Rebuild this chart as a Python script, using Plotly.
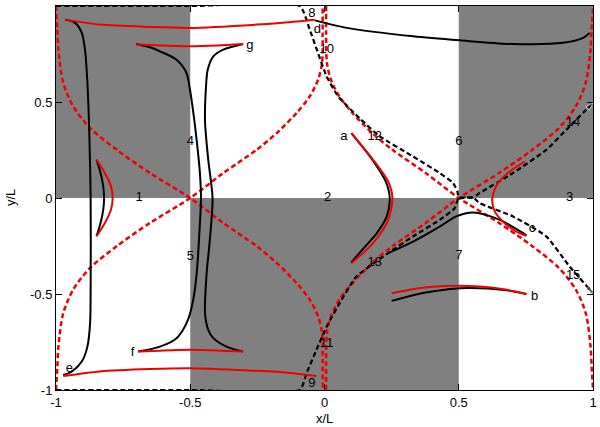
import plotly.graph_objects as go

# gray cells (x0, x1, y0, y1)
cells_x0 = [-1.0, 0.5, -0.5]
cells_x1 = [-0.5, 1.0, 0.5]
cells_y0 = [0.0, 0.0, -1.0]
cells_y1 = [1.0, 1.0, 0.0]

# red dashed separatrices
sep1_x = [-1.0, -0.995, -0.991, -0.973, -0.936, -0.873, -0.774, -0.65, -0.5,
          -0.377, -0.253, -0.178, -0.104, -0.055, -0.024, -0.009, -0.007, -0.007]
sep1_y = [1.0, 0.88, 0.773, 0.6, 0.477, 0.364, 0.251, 0.13, 0.0,
          -0.13, -0.251, -0.338, -0.443, -0.529, -0.616, -0.703, -0.86, -1.0]
sep2_x = [-1.0, -0.995, -0.991, -0.973, -0.936, -0.873, -0.774, -0.65, -0.5,
          -0.377, -0.253, -0.178, -0.104, -0.055, -0.024, -0.009, -0.007, -0.007]
sep2_y = [-1.0, -0.88, -0.773, -0.6, -0.477, -0.364, -0.251, -0.13, 0.0,
          0.13, 0.251, 0.338, 0.443, 0.529, 0.616, 0.703, 0.86, 1.0]
sep3_x = [0.006, 0.006, 0.009, 0.024, 0.055, 0.104, 0.178, 0.253, 0.377, 0.5,
          0.65, 0.774, 0.873, 0.936, 0.973, 0.991, 0.995, 1.0]
sep3_y = [1.0, 0.86, 0.703, 0.616, 0.529, 0.443, 0.338, 0.251, 0.13, 0.0,
          -0.13, -0.251, -0.364, -0.477, -0.6, -0.773, -0.88, -1.0]
sep4_x = [0.006, 0.006, 0.009, 0.024, 0.055, 0.104, 0.178, 0.253, 0.377, 0.5,
          0.65, 0.774, 0.873, 0.936, 0.973, 0.991, 0.995, 1.0]
sep4_y = [-1.0, -0.86, -0.703, -0.616, -0.529, -0.443, -0.338, -0.251, -0.13, 0.0,
          0.13, 0.251, 0.364, 0.477, 0.6, 0.773, 0.88, 1.0]

# black dashed field lines
fl1_x = [-1.0, -0.5, -0.092, -0.055, -0.024, 0.008, 0.051, 0.132, 0.206, 0.33,
         0.429, 0.479, 0.495, 0.5, 0.553, 0.578, 0.702, 0.826, 0.913, 1.0]
fl1_y = [1.0, 1.0, 1.0, 0.877, 0.755, 0.633, 0.529, 0.413, 0.321, 0.216,
         0.13, 0.078, 0.034, 0.0, 0.003, -0.027, -0.096, -0.2, -0.357, -0.496]
fl2_x = [-1.0, -0.5, -0.092, -0.067, -0.03, 0.008, 0.063, 0.119, 0.237, 0.33,
         0.429, 0.485, 0.5, 0.553, 0.578, 0.702, 0.826, 0.913, 1.0]
fl2_y = [-1.0, -1.0, -1.0, -0.913, -0.791, -0.67, -0.531, -0.409, -0.287, -0.2,
         -0.114, -0.053, 0.0, 0.003, 0.026, 0.13, 0.251, 0.373, 0.495]

# black solid orbits
d_x = [-0.036, 0.082, 0.33, 0.504, 0.702, 0.888, 0.963, 0.988]
d_y = [0.925, 0.886, 0.842, 0.821, 0.802, 0.808, 0.834, 0.86]
e_x = [-0.966, -0.929, -0.904, -0.892, -0.883, -0.876, -0.871, -0.871,
       -0.873, -0.883, -0.904, -0.942, -0.973]
e_y = [0.929, 0.912, 0.86, 0.773, 0.599, 0.338, 0.0, -0.479,
       -0.652, -0.774, -0.852, -0.905, -0.922]
g1_x = [-0.702, -0.65, -0.613, -0.551, -0.514, -0.501, -0.489, -0.476, -0.464, -0.46,
        -0.464, -0.476, -0.489, -0.51, -0.551, -0.613, -0.694]
g1_y = [0.802, 0.785, 0.764, 0.72, 0.651, 0.564, 0.45, 0.3, 0.13, 0.0,
        -0.131, -0.392, -0.531, -0.64, -0.73, -0.774, -0.8]
g2_x = [-0.303, -0.377, -0.414, -0.435, -0.442, -0.445, -0.433, -0.417,
        -0.427, -0.439, -0.445, -0.433, -0.414, -0.365, -0.303]
g2_y = [0.802, 0.773, 0.738, 0.668, 0.564, 0.4, 0.2, 0.0,
        -0.218, -0.392, -0.6, -0.687, -0.73, -0.774, -0.8]
h_x = [-0.849, -0.834, -0.824, -0.821, -0.824, -0.834, -0.849]
h_y = [0.199, 0.13, 0.06, 0.0, -0.06, -0.13, -0.199]
a_x = [0.1, 0.178, 0.228, 0.243, 0.232, 0.195, 0.157, 0.1]
a_y = [0.338, 0.2, 0.086, 0.0, -0.096, -0.183, -0.244, -0.335]
c_x = [0.237, 0.33, 0.429, 0.491, 0.553, 0.6, 0.653, 0.74, 0.752]
c_y = [-0.287, -0.227, -0.149, -0.096, -0.076, -0.088, -0.114, -0.183, -0.195]
b_x = [0.25, 0.35, 0.454, 0.504, 0.578, 0.68, 0.752]
b_y = [-0.536, -0.5, -0.477, -0.47, -0.47, -0.481, -0.5]

# red solid orbits
rd_x = [-0.966, -0.836, -0.65, -0.501, -0.253, -0.166, -0.036]
rd_y = [0.929, 0.903, 0.891, 0.886, 0.903, 0.912, 0.929]
re_x = [-0.973, -0.836, -0.65, -0.501, -0.253, -0.166, -0.03]
re_y = [-0.927, -0.903, -0.891, -0.887, -0.9, -0.906, -0.927]
rg_x = [-0.702, -0.6, -0.5, -0.4, -0.303]
rg_y = [0.8, 0.794, 0.79, 0.794, 0.802]
rf_x = [-0.694, -0.6, -0.5, -0.4, -0.303]
rf_y = [-0.8, -0.794, -0.791, -0.794, -0.8]
rh_x = [-0.849, -0.818, -0.795, -0.789, -0.795, -0.818, -0.849]
rh_y = [0.199, 0.13, 0.06, 0.0, -0.06, -0.13, -0.199]
ra_x = [0.1, 0.181, 0.237, 0.253, 0.237, 0.181, 0.1]
ra_y = [0.338, 0.199, 0.086, 0.0, -0.114, -0.235, -0.34]
rc_x = [0.746, 0.69, 0.646, 0.625, 0.634, 0.671, 0.715, 0.752]
rc_y = [0.19, 0.138, 0.078, 0.0, -0.07, -0.131, -0.175, -0.197]
rb_x = [0.25, 0.35, 0.454, 0.578, 0.68, 0.752]
rb_y = [-0.496, -0.47, -0.458, -0.461, -0.478, -0.5]

# labels
lab_text = ['1', '2', '3', '4', '5', '6', '7', '8', '9', '10', '11', '12', '13', '14', '15',
            'a', 'b', 'c', 'd', 'e', 'f', 'g']
lab_x = [-0.69, 0.012, 0.913, -0.5, -0.5, 0.5, 0.5, -0.047, -0.047, 0.008, 0.008, 0.187, 0.187,
         0.926, 0.926, 0.072, 0.783, 0.773, -0.027, -0.95, -0.715, -0.278]
lab_y = [0.0, 0.0, 0.0, 0.295, -0.305, 0.295, -0.301, 0.96, -0.967, 0.773, -0.757, 0.321,
         -0.336, 0.39, -0.406, 0.321, -0.513, -0.162, 0.877, -0.887, -0.805, 0.794]

fig = go.Figure()

for x0, x1, y0, y1 in zip(cells_x0, cells_x1, cells_y0, cells_y1):
    fig.add_shape(type='rect', x0=x0, x1=x1, y0=y0, y1=y1, layer='below',
                  fillcolor='#808080', line_width=0)

for xs, ys in [(sep1_x, sep1_y), (sep2_x, sep2_y), (sep3_x, sep3_y), (sep4_x, sep4_y)]:
    fig.add_trace(go.Scatter(x=xs, y=ys, mode='lines',
                             line=dict(color='#ee0000', width=2.5, dash='5px,3px',
                                       shape='spline', smoothing=0.8)))

for xs, ys in [(fl1_x, fl1_y), (fl2_x, fl2_y)]:
    sizes = [0] * (len(xs) - 1) + [8]
    fig.add_trace(go.Scatter(x=xs, y=ys, mode='lines+markers',
                             line=dict(color='black', width=2.2, dash='5px,3px',
                                       shape='spline', smoothing=0.5),
                             marker=dict(symbol='arrow', size=sizes, color='black',
                                         angleref='previous')))

for xs, ys in [(e_x, e_y), (d_x, d_y), (g1_x, g1_y), (g2_x, g2_y), (h_x, h_y),
               (a_x, a_y), (c_x, c_y), (b_x, b_y)]:
    fig.add_trace(go.Scatter(x=xs, y=ys, mode='lines',
                             line=dict(color='black', width=2, shape='spline', smoothing=0.8)))

for xs, ys in [(rd_x, rd_y), (re_x, re_y), (rg_x, rg_y), (rf_x, rf_y), (rh_x, rh_y),
               (ra_x, ra_y), (rc_x, rc_y), (rb_x, rb_y)]:
    fig.add_trace(go.Scatter(x=xs, y=ys, mode='lines',
                             line=dict(color='#ee0000', width=2, shape='spline', smoothing=0.8)))

fig.add_trace(go.Scatter(x=lab_x, y=lab_y, mode='text', text=lab_text,
                         textfont=dict(size=13, color='black')))

axis_style = dict(range=[-1, 1], showgrid=False, zeroline=False, showline=True,
                  linecolor='black', linewidth=1, mirror='allticks', ticks='inside',
                  ticklen=6, tickcolor='black', tickvals=[-1, -0.5, 0, 0.5, 1],
                  ticktext=['-1', '-0.5', '0', '0.5', '1'], automargin=False,
                  tickfont=dict(size=13, color='black'))

fig.update_layout(
    width=600, height=427,
    margin=dict(l=56, r=7, t=6, b=37),
    plot_bgcolor='white', paper_bgcolor='white',
    showlegend=False,
    font=dict(family='Liberation Sans, Arial, sans-serif', size=13, color='black'),
    xaxis=axis_style,
    yaxis=axis_style,
)

fig.add_annotation(text='x/L', xref='paper', yref='paper', x=0.5, y=0, yshift=-28,
                   yanchor='middle', showarrow=False, font=dict(size=13))
fig.add_annotation(text='y/L', xref='paper', yref='paper', x=0, y=0.5, xshift=-46,
                   xanchor='center', textangle=-90, showarrow=False, font=dict(size=13))

fig.write_html("out.html", config={'displayModeBar': False},
               post_script="document.body.style.margin='0';")
